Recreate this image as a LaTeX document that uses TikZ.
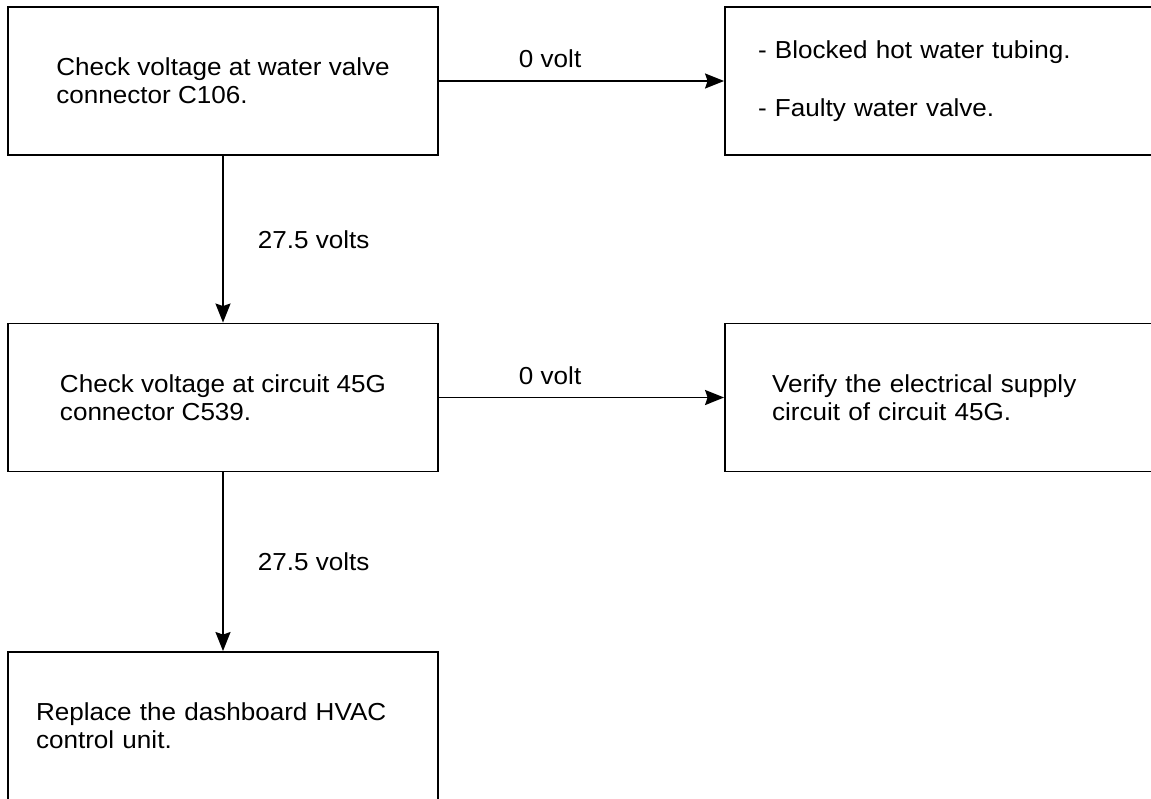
\documentclass[tikz,border=0pt]{standalone}
\usepackage{fontspec}
\setmainfont{Liberation Sans}[FakeStretch=1.06]
\usetikzlibrary{arrows.meta}
\tikzstyle{box} = [rectangle, draw=black, line width=1.1pt, minimum width=8.6cm, minimum height=2.96cm, align=left, inner sep=0pt, font=\fontsize{14}{15.9}\selectfont]
\tikzstyle{widebox} = [box, minimum width=9cm]
\tikzstyle{arrow} = [line width=1.1pt,-{Stealth[length=0.38cm,width=0.3cm,inset=0.05cm]}]
\tikzstyle{lbl} = [inner sep=0pt, font=\fontsize{14}{15.9}\selectfont]

\begin{document}
\begin{tikzpicture}[x=0.02cm,y=-0.02cm]
\path[use as bounding box,clip] (0,0) rectangle (1151,798);

\node[box] (valve) at (223,81) {Check voltage at water valve\\connector C106.};
\node[widebox,text width=7.68cm] (causes) at (950,81) {- Blocked hot water tubing.\\[0.6cm]- Faulty water valve.};
\node[box] (circuit) at (223,397.5) {Check voltage at circuit 45G\\connector C539.};
\node[widebox,text width=7.12cm] (supply) at (950,397.5) {Verify the electrical supply\\circuit of circuit 45G.};
\node[box,text width=7.48cm] (replace) at (223,726) {Replace the dashboard HVAC\\control unit.};

\draw[arrow] (valve) -- node[lbl,above=0.24cm,pos=0.39]{0 volt} (causes);
\draw[arrow] (valve) -- node[lbl,right=0.68cm,midway]{27.5 volts} (circuit);
\draw[arrow] (circuit) -- node[lbl,above=0.24cm,pos=0.39]{0 volt} (supply);
\draw[arrow] (circuit) -- node[lbl,right=0.68cm,midway]{27.5 volts} (replace);
\end{tikzpicture}
\end{document}
